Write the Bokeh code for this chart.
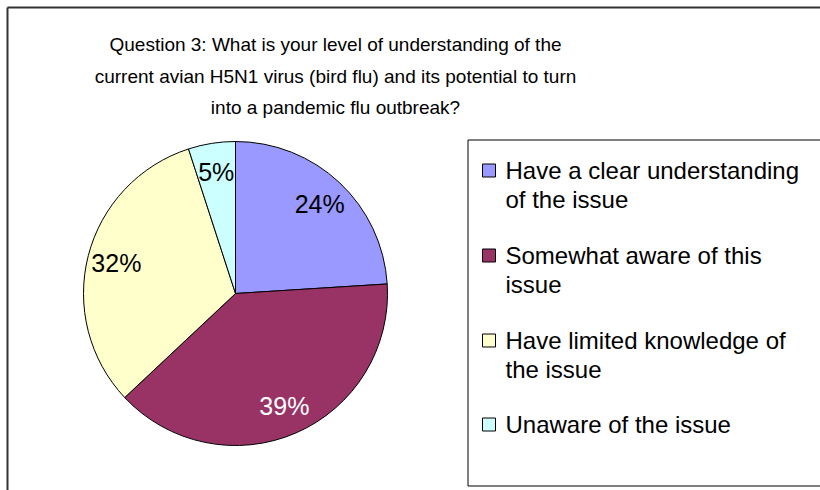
import math
from bokeh.plotting import figure
from bokeh.models import Range1d, ColumnDataSource
from bokeh.core.properties import value
from bokeh.embed import file_html
from bokeh.resources import INLINE

# ---- data ----
categories = [
    "Have a clear understanding of the issue",
    "Somewhat aware of this issue",
    "Have limited knowledge of the issue",
    "Unaware of the issue",
]
legend_lines = [
    ["Have a clear understanding", "of the issue"],
    ["Somewhat aware of this", "issue"],
    ["Have limited knowledge of", "the issue"],
    ["Unaware of the issue"],
]
percents = [24, 39, 32, 5]
colors = ["#9999FF", "#993366", "#FFFFCC", "#CCFFFF"]
label_colors = ["black", "white", "black", "black"]
title_lines = [
    "Question 3: What is your level of understanding of the",
    "current avian H5N1 virus (bird flu) and its potential to turn",
    "into a pandemic flu outbreak?",
]

FONT = "Liberation Sans"
W, H = 820, 490

p = figure(width=W, height=H, output_backend="svg", toolbar_location=None,
           x_range=Range1d(0, W), y_range=Range1d(0, H),
           min_border=0, outline_line_color=None)
p.axis.visible = False
p.grid.visible = False
p.background_fill_color = "white"
p.border_fill_color = "white"

def Y(sy):
    return H - sy

# outer frame (only left & top edges fall inside the picture)
p.segment(x0=[7], y0=[Y(7)], x1=[7], y1=[Y(490)], line_color="#333333", line_width=2)
p.segment(x0=[7], y0=[Y(7)], x1=[820], y1=[Y(7)], line_color="#333333", line_width=2)

# pie
cx, cy, R = 235, Y(293), 152
total = sum(percents)
starts, ends, mids = [], [], []
cum = 0
for v in percents:
    a0 = math.pi / 2 - 2 * math.pi * cum / total
    cum += v
    a1 = math.pi / 2 - 2 * math.pi * cum / total
    starts.append(a0)
    ends.append(a1)
    mids.append((a0 + a1) / 2)

src = ColumnDataSource(dict(start=starts, end=ends, color=colors))
p.wedge(x=cx, y=cy, radius=R, start_angle="start", end_angle="end",
        direction="clock", fill_color="color", line_color="black",
        line_width=1, source=src)

lr = 123
lsrc = ColumnDataSource(dict(
    x=[cx + lr * math.cos(m) for m in mids],
    y=[cy + lr * math.sin(m) for m in mids],
    t=[f"{v}%" for v in percents],
    c=label_colors,
))
p.text(x="x", y="y", text="t", text_color="c", source=lsrc,
       text_font=value(FONT), text_font_size="25px",
       text_align="center", text_baseline="middle")

# title
p.text(x=[335] * 3, y=[Y(44), Y(76), Y(107)], text=title_lines,
       text_font=value(FONT), text_font_size="19px",
       text_align="center", text_baseline="middle", text_color="black")

# legend box (right edge lies outside the picture)
lb_l, lb_t, lb_b = 467.5, 139.5, 485.5
p.segment(x0=[lb_l, lb_l, lb_l], y0=[Y(lb_t), Y(lb_t), Y(lb_b)],
          x1=[lb_l, 820, 820], y1=[Y(lb_b), Y(lb_t), Y(lb_b)],
          line_color="black", line_width=1)

item_y = [170, 255, 340, 424]
sq = 13
for i, lines in enumerate(legend_lines):
    yc = Y(item_y[i])
    p.rect(x=[488.5], y=[yc], width=sq, height=sq, fill_color=colors[i],
           line_color="black", line_width=1)
    for j, ln in enumerate(lines):
        p.text(x=[505], y=[Y(item_y[i] + 29 * j)], text=[ln],
               text_font=value(FONT), text_font_size="24px",
               text_align="left", text_baseline="middle", text_color="black")

open("out.html", "w").write(file_html(p, INLINE))
